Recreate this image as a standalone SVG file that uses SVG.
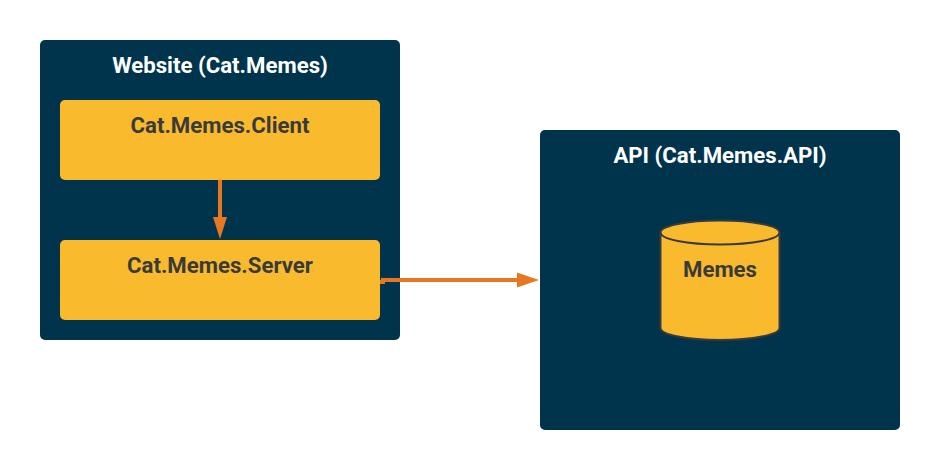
<svg xmlns="http://www.w3.org/2000/svg" width="940" height="470" viewBox="0 0 940 470">
<style>
.c{fill:#00344d}
.b{fill:#f9bb2d}
text{font-family:Roboto,"Liberation Sans",sans-serif;font-size:22.2px;font-weight:700;text-anchor:middle}
.w{fill:#fff}
.d{fill:#3a3a3a}
.l{fill:none;stroke:#e87722;stroke-width:4}
.a{fill:#e87722}
.s{fill:#f9bb2d;stroke:#3a3a3a;stroke-width:2}
</style>
<rect width="940" height="470" fill="#fff"/>
<g id="website"><rect class="c" x="40" y="40" width="360" height="300" rx="5"/><text class="w" x="220" y="72.500">Website (Cat.Memes)</text></g>
<g id="api"><rect class="c" x="540" y="130" width="360" height="300" rx="5"/><text class="w" x="720" y="162.500">API (Cat.Memes.API)</text></g>
<g id="client"><rect class="b" x="60" y="100" width="320" height="80" rx="5"/><text class="d" x="220" y="132.500">Cat.Memes.Client</text></g>
<g id="server"><rect class="b" x="60" y="240" width="320" height="80" rx="5"/><text class="d" x="220" y="272.500">Cat.Memes.Server</text></g>
<g id="memes"><path class="s" d="M660.500 232.500A59.500 12 0 0 1 779.500 232.500V328A59.500 12 0 0 1 660.500 328Z"/><path class="s" style="fill:none" d="M660.500 232.500A59.500 12 0 0 0 779.500 232.500"/><text class="d" x="720" y="276.500">Memes</text></g>
<g id="connectors">
<path class="l" d="M220 180V218"/><path class="a" d="M213 217H227L220 239Z"/>
<path class="l" d="M380 282H383V280H518"/><path class="a" d="M517 272.500L539 280L517 287.500Z"/>
</g>
</svg>
